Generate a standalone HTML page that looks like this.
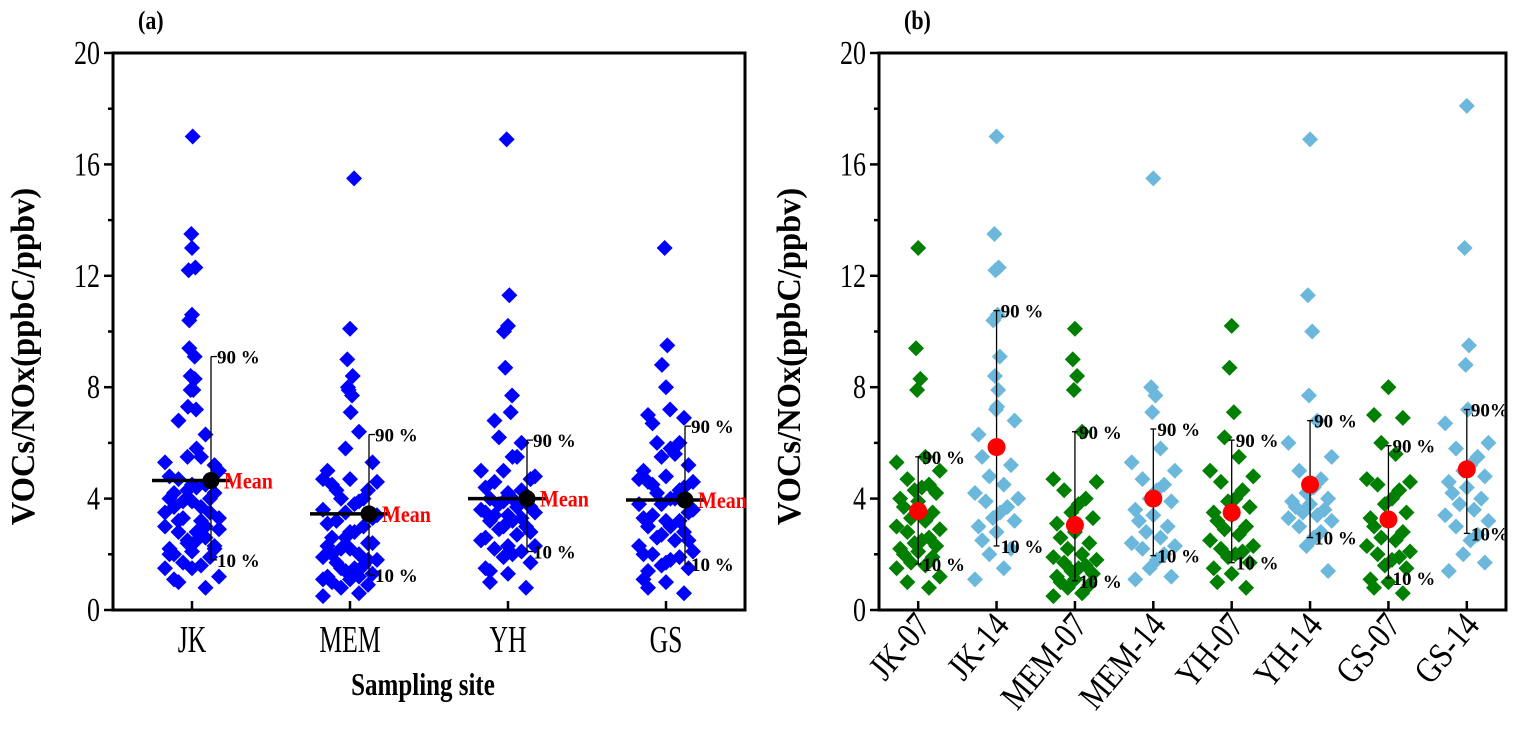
<!DOCTYPE html>
<html><head><meta charset="utf-8"><style>
html,body{margin:0;padding:0;background:#fff;}
svg{display:block;font-family:"Liberation Serif",serif;}
</style></head><body>
<svg id="chart" width="1514" height="746" viewBox="0 0 1514 746" xmlns="http://www.w3.org/2000/svg"></svg>
<script>
// ---- data (panel b series) ----
const catsA = ["JK","MEM","YH","GS"];
const catsB = ["JK-07","JK-14","MEM-07","MEM-14","YH-07","YH-14","GS-07","GS-14"];
const yTicks = [0,4,8,12,16,20];
const jk07 = [13.0,9.4,8.3,7.9,5.5,5.3,5.0,4.7,4.5,4.4,4.3,4.2,4.0,3.9,3.7,3.5,3.3,3.2,3.0,2.9,2.8,2.6,2.5,2.4,2.3,2.2,2.1,2.0,1.9,1.7,1.6,1.5,1.2,1.0,0.8];
const jk14 = [17.0,13.5,12.3,12.2,10.6,10.4,9.1,8.4,7.9,7.3,7.2,6.8,6.3,5.8,5.5,5.2,4.8,4.5,4.2,4.0,3.9,3.7,3.5,3.3,3.2,3.0,2.8,2.5,2.2,2.0,1.5,1.1];
const mem07 = [10.1,9.0,8.4,7.9,6.4,4.7,4.6,4.3,4.0,3.8,3.5,3.3,3.1,2.8,2.6,2.4,2.2,2.0,1.9,1.8,1.7,1.6,1.5,1.4,1.3,1.2,1.1,1.0,0.9,0.8,0.6,0.5];
const mem14 = [15.5,8.0,7.7,7.1,5.8,5.3,5.0,4.7,4.5,4.3,4.0,3.9,3.6,3.4,3.2,3.0,2.8,2.6,2.4,2.3,2.2,2.0,1.8,1.5,1.2,1.1];
const yh07 = [10.2,8.7,7.1,6.2,5.5,5.0,4.8,4.6,4.3,4.0,3.9,3.7,3.5,3.4,3.2,3.0,2.9,2.7,2.5,2.3,2.2,2.1,2.0,1.9,1.7,1.5,1.3,1.0,0.8];
const yh14 = [16.9,11.3,10.0,7.7,6.8,6.0,5.5,5.0,4.7,4.4,4.2,4.0,3.9,3.8,3.7,3.6,3.5,3.4,3.3,3.2,3.0,2.8,2.6,2.3,1.4];
const gs07 = [8.0,7.0,6.9,6.0,5.6,4.7,4.6,4.5,4.3,4.0,3.8,3.5,3.3,3.2,3.0,2.8,2.6,2.5,2.3,2.1,2.0,1.9,1.8,1.6,1.5,1.1,1.0,0.8,0.6];
const gs14 = [18.1,13.0,9.5,8.8,7.2,6.7,6.0,5.8,5.5,5.2,5.0,4.8,4.6,4.4,4.2,4.0,3.8,3.6,3.4,3.2,3.0,2.7,2.5,2.0,1.7,1.4];
const meanA = [4.65,3.45,4.0,3.95];
const p90A = [9.1,6.3,6.1,6.6];
const p10A = [1.8,1.25,2.1,1.65];
const meanB = [3.55,5.85,3.05,4.0,3.5,4.5,3.25,5.05];
const p90B = [5.5,10.75,6.4,6.5,6.1,6.8,5.9,7.2];
const p10B = [1.65,2.3,1.05,1.95,1.7,2.6,1.15,2.75];

const NS="http://www.w3.org/2000/svg";
const svg=document.getElementById('chart');
function mk(tag,attrs,parent){const e=document.createElementNS(NS,tag);for(const k in attrs)e.setAttribute(k,attrs[k]);(parent||svg).appendChild(e);return e;}
function txt(s,attrs,parent){const e=mk('text',attrs,parent);e.textContent=s;return e;}

const Y0=610, Y1=53;
function yScale(v){return Y0-(v/20)*(Y0-Y1);}

function diamond(cx,cy,r,fill,g){
  const p=mk('polygon',{points:`${cx},${cy-r} ${cx+r},${cy} ${cx},${cy+r} ${cx-r},${cy}`,fill:fill},g);
  
  
}
function jitter(i,v,w){
  const pat=[0,-0.6,0.6,-0.3,0.3,-0.9,0.9,-0.45,0.45,0.15,-0.15,0.75,-0.75];
  const damp=v>7?0.15:1;
  return pat[i%pat.length]*w*damp;
}

function panel(L,R,cats,label,nameP){
  const g=mk('g',{});  
  const n=cats.length, step=(R-L)/n;
  const xC=i=>L+step*(i+0.5);
  const f=mk('rect',{x:L,y:Y1,width:R-L,height:Y0-Y1,fill:'none',stroke:'#000','stroke-width':3},g);
   
  for(let v=0;v<=20;v+=2){
    const y=yScale(v), major=v%4===0;
    mk('line',{x1:L-(major?9:5),x2:L,y1:y,y2:y,stroke:'#000','stroke-width':2.5},g);
  }
  yTicks.forEach(v=>{
    const t=txt(String(v),{x:0,y:0,'text-anchor':'end','font-size':26,transform:`translate(${L-13},${yScale(v)+11}) scale(1,1.3)`},g);
     
  });
  cats.forEach((c,i)=>{mk('line',{x1:xC(i),x2:xC(i),y1:Y0-9,y2:Y0,stroke:'#000','stroke-width':2.5},g);});
  const yt=txt('VOCs/NOx(ppbC/ppbv)',{x:0,y:0,'font-size':31,'font-weight':'bold','text-anchor':'middle',transform:`translate(${L-79},${(Y0+Y1)/2+25}) rotate(-90) scale(1.05,1.1)`},g);
   
  const pl=txt(label,{x:0,y:0,'font-size':22,'font-weight':'bold',transform:`translate(${L+25},29) scale(1,1.2)`},g);
   
  return {g,xC,step};
}

// Panel A
const A=panel(113,745,catsA,'(a)','panel-a');
const seriesA=[jk07.concat(jk14),mem07.concat(mem14),yh07.concat(yh14),gs07.concat(gs14.slice(1))];
seriesA.forEach((vals,i)=>{
  const cx=A.xC(i);
  vals.forEach((v,j)=>diamond(cx+jitter(j,v,30),yScale(v),8,'#0000ff',A.g));
});
catsA.forEach((c,i)=>{
  const cx=A.xC(i), ex=cx+19;
  mk('line',{x1:cx-40,x2:ex+21,y1:yScale(meanA[i]),y2:yScale(meanA[i]),stroke:'#000','stroke-width':3.5},A.g);
  mk('line',{x1:ex,x2:ex,y1:yScale(p90A[i]),y2:yScale(p10A[i]),stroke:'#000','stroke-width':1.3},A.g);
  mk('line',{x1:ex,x2:ex+6,y1:yScale(p90A[i]),y2:yScale(p90A[i]),stroke:'#000','stroke-width':1.3},A.g);
  mk('line',{x1:ex,x2:ex+6,y1:yScale(p10A[i]),y2:yScale(p10A[i]),stroke:'#000','stroke-width':1.3},A.g);
  const d=mk('circle',{cx:ex,cy:yScale(meanA[i]),r:8.5,fill:'#000'},A.g);
   
  txt('90 %',{x:ex+6,y:yScale(p90A[i])+7,'font-size':19,'font-weight':'bold'},A.g);
  txt('10 %',{x:ex+6,y:yScale(p10A[i])+7,'font-size':19,'font-weight':'bold'},A.g);
  const m=txt('Mean',{x:0,y:0,'font-size':20,'font-weight':'bold',fill:'#ff0000',transform:`translate(${ex+13},${yScale(meanA[i])+8}) scale(1,1.15)`},A.g);
   
  const xl=txt(c,{x:0,y:0,'text-anchor':'middle','font-size':27,transform:`translate(${cx},${652}) scale(0.95,1.4)`},A.g);
   
});
const xt=txt('Sampling site',{x:0,y:0,'text-anchor':'middle','font-size':25,'font-weight':'bold',transform:'translate(423,695) scale(1,1.25)'},A.g);
 

// Panel B
const B=panel(879,1506,catsB,'(b)','panel-b');
const seriesB=[jk07,jk14,mem07,mem14,yh07,yh14,gs07,gs14];
seriesB.forEach((vals,i)=>{
  const cx=B.xC(i), col=i%2===0?'#007f00':'#6bb8dc';
  vals.forEach((v,j)=>diamond(cx+jitter(j,v,24),yScale(v),8,col,B.g));
});
catsB.forEach((c,i)=>{
  const cx=B.xC(i);
  mk('line',{x1:cx,x2:cx,y1:yScale(p90B[i]),y2:yScale(p10B[i]),stroke:'#000','stroke-width':1.3},B.g);
  mk('line',{x1:cx-3,x2:cx+3,y1:yScale(p90B[i]),y2:yScale(p90B[i]),stroke:'#000','stroke-width':1.3},B.g);
  mk('line',{x1:cx-3,x2:cx+3,y1:yScale(p10B[i]),y2:yScale(p10B[i]),stroke:'#000','stroke-width':1.3},B.g);
  const d=mk('circle',{cx:cx,cy:yScale(meanB[i]),r:9,fill:'#ff0000'},B.g);
   
  txt(i===7?'90%':'90 %',{x:cx+4,y:yScale(p90B[i])+7,'font-size':19,'font-weight':'bold'},B.g);
  txt(i===7?'10%':'10 %',{x:cx+4,y:yScale(p10B[i])+7,'font-size':19,'font-weight':'bold'},B.g);
  const xl=txt(c,{x:0,y:0,'text-anchor':'end','font-size':30,transform:`translate(${cx+14},${626}) rotate(-50) scale(1,1.2)`},B.g);
   
});
</script>
</body></html>
